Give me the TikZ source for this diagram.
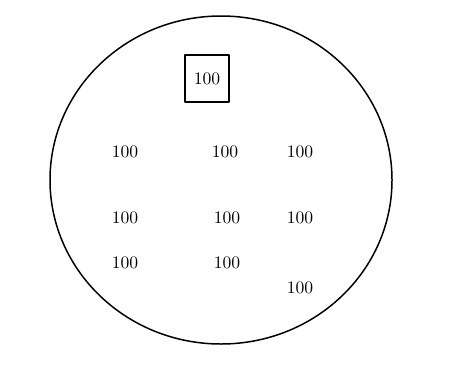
\documentclass[tikz,border=0pt]{standalone}
\usetikzlibrary{positioning}

\begin{document}
\begin{tikzpicture}[x=0.02cm,y=-0.02cm,line cap=round,line join=round]
  \tikzset{
    val/.style={font=\normalsize,inner sep=0pt},
    picked/.style={draw,line width=1.1pt,minimum width=0.88cm,minimum height=0.94cm,inner sep=0pt}
  }
  \useasboundingbox (0,0) rectangle (462,365);

  % Outer boundary.
  \draw[line width=0.85pt] (221,180) ellipse [x radius=171,y radius=164];

  % Selected value.
  \node[picked] (top) at (207,78.5) {100};

  % Remaining values.
  \node[val] (a1) at (125,152) {100};
  \node[val] (a2) at (225,152) {100};
  \node[val] (a3) at (300,152) {100};
  \node[val] (b1) at (125,218) {100};
  \node[val] (b2) at (227,218) {100};
  \node[val] (b3) at (300,218) {100};
  \node[val] (c1) at (125,263) {100};
  \node[val] (c2) at (227,263) {100};
  \node[val] (d3) at (300,288) {100};
\end{tikzpicture}
\end{document}
